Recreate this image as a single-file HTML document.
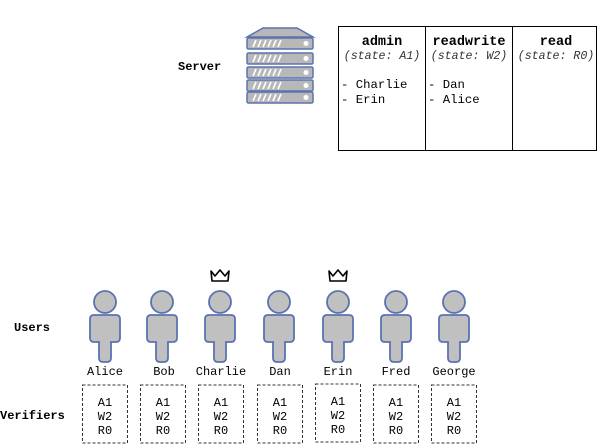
<!DOCTYPE html>
<html><head><style>body{margin:0;background:#fff}svg{display:block}</style></head><body>
<svg width="600" height="446" xmlns="http://www.w3.org/2000/svg" font-family="Liberation Mono, monospace">
<defs>
<g id="p">
<circle cx="0" cy="302" r="11" fill="#c0c0c0" stroke="#5b72b0" stroke-width="1.8"/>
<path d="M-11,315 H11 Q15,315 15,319 V338 Q15,342 11,342 H6 V358 Q6,362 2,362 H-2 Q-6,362 -6,358 V342 H-11 Q-15,342 -15,338 V319 Q-15,315 -11,315 Z" fill="#c0c0c0" stroke="#5b72b0" stroke-width="1.8"/>
</g>
<g id="c"><path d="M-9,271 L-5,276 L0,270 L5,276 L9,271 L8,281 H-8 Z" fill="none" stroke="#000" stroke-width="1.6" stroke-linejoin="round"/></g>
<g id="v"><rect x="-22.5" y="0" width="45" height="58" fill="none" stroke="#333" stroke-width="1" stroke-dasharray="3,2"/>
<text x="0" y="21" font-size="12" text-anchor="middle">A1</text><text x="0" y="35" font-size="12" text-anchor="middle">W2</text><text x="0" y="49" font-size="12" text-anchor="middle">R0</text></g>
<g id="s"><rect x="0" y="0" width="66" height="11" rx="1.5" fill="#b8b8b8" stroke="#5b72b0" stroke-width="1.5"/>
<path d="M6,9 l3,-7 M11,9 l3,-7 M16,9 l3,-7 M21,9 l3,-7 M26,9 l3,-7 M31,9 l3,-7" stroke="#fff" stroke-width="1.6"/>
<circle cx="59" cy="5.5" r="2.5" fill="#fff"/></g>
</defs>
<text x="178" y="70" font-size="12" font-weight="bold">Server</text>
<path d="M247,37 L263,28 H297 L313,37 Z" fill="#b8b8b8" stroke="#5b72b0" stroke-width="1.5"/>
<use href="#s" x="247" y="38"/><use href="#s" x="247" y="53"/><use href="#s" x="247" y="67"/><use href="#s" x="247" y="80"/><use href="#s" x="247" y="92"/>
<rect x="338.5" y="26.5" width="258" height="124" fill="none" stroke="#000" stroke-width="1"/>
<line x1="425.5" y1="26" x2="425.5" y2="151" stroke="#000"/><line x1="512.5" y1="26" x2="512.5" y2="151" stroke="#000"/>
<g font-size="13.5" font-weight="bold" text-anchor="middle"><text x="382" y="45">admin</text><text x="469" y="45">readwrite</text><text x="556" y="45">read</text></g>
<g font-size="11.6" font-style="italic" fill="#333" text-anchor="middle"><text x="382" y="59">(state: A1)</text><text x="469" y="59">(state: W2)</text><text x="556" y="59">(state: R0)</text></g>
<g font-size="12.3"><text x="341" y="88">- Charlie</text><text x="341" y="103">- Erin</text><text x="428" y="88">- Dan</text><text x="428" y="103">- Alice</text></g>
<text x="14" y="331" font-size="12" font-weight="bold">Users</text>
<text x="0" y="419" font-size="12" font-weight="bold">Verifiers</text>
<g font-size="12" text-anchor="middle">
<use href="#p" x="105"/><text x="105" y="375">Alice</text><use href="#v" x="105" y="385"/>
<use href="#p" x="162"/><text x="164" y="375">Bob</text><use href="#v" x="163" y="385"/>
<use href="#p" x="220"/><use href="#c" x="220"/><text x="221" y="375">Charlie</text><use href="#v" x="221" y="385"/>
<use href="#p" x="279"/><text x="280" y="375">Dan</text><use href="#v" x="280" y="385"/>
<use href="#p" x="338"/><use href="#c" x="338"/><text x="338" y="375">Erin</text><use href="#v" x="338" y="384"/>
<use href="#p" x="396"/><text x="396" y="375">Fred</text><use href="#v" x="396" y="385"/>
<use href="#p" x="454"/><text x="454" y="375">George</text><use href="#v" x="454" y="385"/>
</g>
</svg>
</body></html>
